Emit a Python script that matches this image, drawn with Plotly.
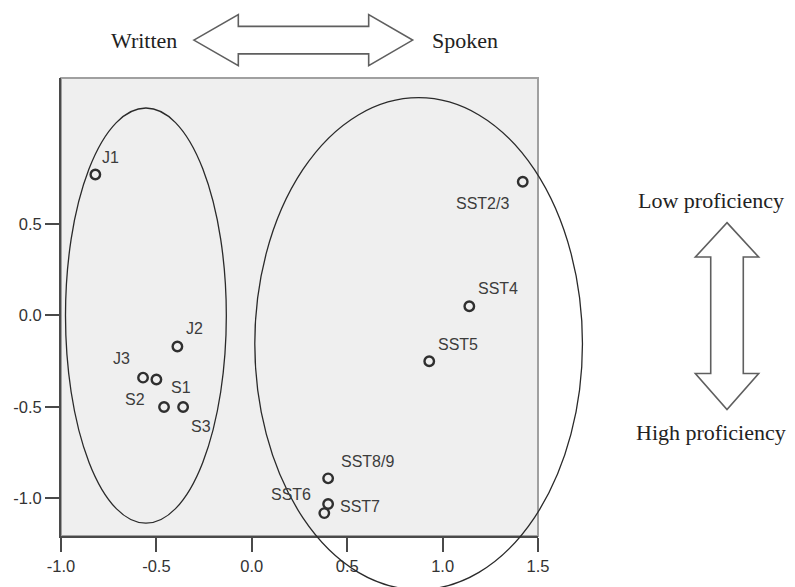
import numpy as np
import plotly.graph_objects as go

# MDS configuration: two-dimensional coordinates of each text group
labels = ["J1", "J2", "J3", "S1", "S2", "S3",
          "SST2/3", "SST4", "SST5", "SST6", "SST7", "SST8/9"]
dim1 = [-0.82, -0.39, -0.57, -0.50, -0.46, -0.36,
        1.42, 1.14, 0.93, 0.38, 0.40, 0.40]
dim2 = [0.77, -0.17, -0.34, -0.35, -0.50, -0.50,
        0.73, 0.05, -0.25, -1.08, -1.03, -0.89]

x_ticks = [-1.0, -0.5, 0.0, 0.5, 1.0, 1.5]
y_ticks = [-1.0, -0.5, 0.0, 0.5]

# label placement around each point (pixel offsets: dx right, dy up)
label_offsets = {
    "J1": (15, 17), "J2": (17, 18), "J3": (-22, 19),
    "S1": (25, -8), "S2": (-29, 7), "S3": (18, -20),
    "SST2/3": (-40, -22), "SST4": (29, 18), "SST5": (29, 17),
    "SST6": (-33, 19), "SST7": (32, -3), "SST8/9": (39, 17),
}

W, H = 795, 587
PL, PR, PT, PB = 61, 538.5, 78, 543.5   # plot area in pixels


def to_paper(px, py):
    return (px - PL) / (PR - PL), (PB - py) / (PB - PT)


def ellipse_shape(cx, cy, a, b):
    x0, y0 = to_paper(cx - a, cy + b)
    x1, y1 = to_paper(cx + a, cy - b)
    return dict(type="circle", xref="paper", yref="paper",
                x0=x0, x1=x1, y0=y0, y1=y1,
                line=dict(color="#2a2a2a", width=1.3), layer="above")


def path_shape(points):
    pts = [to_paper(x, y) for x, y in points]
    d = "M " + " L ".join(f"{x:.5f},{y:.5f}" for x, y in pts) + " Z"
    return dict(type="path", xref="paper", yref="paper", path=d,
                fillcolor="white", line=dict(color="#5f5f5f", width=1.6),
                layer="above")


def h_double_arrow(cy, tip_l, base_l, base_r, tip_r, head, shaft):
    return [(tip_l, cy), (base_l, cy - head), (base_l, cy - shaft),
            (base_r, cy - shaft), (base_r, cy - head), (tip_r, cy),
            (base_r, cy + head), (base_r, cy + shaft), (base_l, cy + shaft),
            (base_l, cy + head)]


def v_double_arrow(cx, tip_t, base_t, base_b, tip_b, head, shaft):
    return [(cx, tip_t), (cx + head, base_t), (cx + shaft, base_t),
            (cx + shaft, base_b), (cx + head, base_b), (cx, tip_b),
            (cx - head, base_b), (cx - shaft, base_b), (cx - shaft, base_t),
            (cx - head, base_t)]


def tick_text(vals):
    return [f"{v:.1f}" for v in vals]


fig = go.Figure()
fig.add_trace(go.Scatter(
    x=dim1, y=dim2, mode="markers",
    marker=dict(symbol="circle-open", size=9.5, color="#2f2f2f",
                line=dict(width=2.4, color="#2f2f2f")),
    hoverinfo="text", text=labels, showlegend=False))

annotations = []
for lab, xv, yv in zip(labels, dim1, dim2):
    dx, dy = label_offsets[lab]
    annotations.append(dict(
        x=xv, y=yv, xref="x", yref="y", text=lab, showarrow=False,
        xshift=dx, yshift=dy, xanchor="center", yanchor="middle",
        font=dict(family="Liberation Sans, Arial", size=16, color="#3c3c3c")))

serif = dict(family="Liberation Serif, Times New Roman", size=22, color="#222222")
for txt, px, py in [("Written", 144.5, 40), ("Spoken", 465.5, 40),
                    ("Low proficiency", 712, 202), ("High proficiency", 712, 438)]:
    xp, yp = to_paper(px, py)
    annotations.append(dict(x=xp, y=yp, xref="paper", yref="paper", text=txt,
                            showarrow=False, xanchor="center", yanchor="middle",
                            font=serif))

shapes = [
    # plot frame
    dict(type="rect", xref="paper", yref="paper", x0=0, x1=1, y0=0, y1=1,
         line=dict(color="#a0a0a0", width=2), layer="below"),
    # group ellipses
    ellipse_shape(146, 319.5, 80.5, 211),
    ellipse_shape(419, 348, 164, 250),
    # direction arrows
    path_shape(h_double_arrow(39.5, 194, 238.5, 369, 413, 26, 14)),
    path_shape(v_double_arrow(727.7, 225, 260, 378.3, 415, 31.7, 16.3)),
]

axis_common = dict(showgrid=False, zeroline=False, showline=True,
                   linecolor="#4a4a4a", linewidth=2, ticks="outside",
                   ticklen=14, tickwidth=2, tickcolor="#4a4a4a",
                   tickfont=dict(family="Liberation Sans, Arial", size=16.5,
                                 color="#333333"))

fig.update_layout(
    width=W, height=H,
    margin=dict(l=PL, r=W - PR, t=PT, b=H - PB, pad=0),
    paper_bgcolor="white", plot_bgcolor="#efefef",
    xaxis=dict(range=[-1.0, 1.5], tickvals=x_ticks,
               ticktext=tick_text(x_ticks), **axis_common),
    yaxis=dict(range=[-1.205, 1.297], tickvals=y_ticks,
               ticktext=tick_text(y_ticks), **axis_common),
    annotations=annotations, shapes=shapes,
)

fig.write_html("out.html")
